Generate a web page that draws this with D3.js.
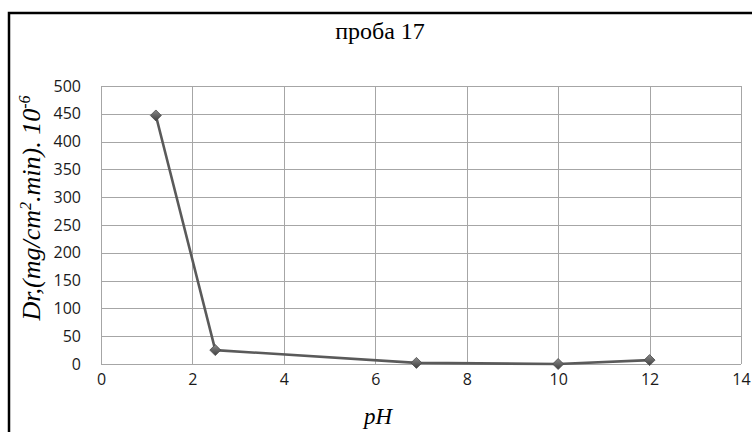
<!DOCTYPE html>
<html>
<head>
<meta charset="utf-8">
<script src="https://cdn.jsdelivr.net/npm/d3@7"></script>
</head>
<body style="margin:0">
<svg id="chart" width="752" height="432"></svg>
<script>
// Dissolution rate vs pH, sample 17
const phValues = [1.2, 2.5, 6.9, 10, 12];
const rateValues = [447, 25, 2, 0, 7];
const xTicks = [0, 2, 4, 6, 8, 10, 12, 14];
const yTicks = [0, 50, 100, 150, 200, 250, 300, 350, 400, 450, 500];
const titleText = "проба 17";

const SERIF = "Liberation Serif";
const SANS = "Open Sans";

const svg = d3.select("#chart");
const W = 752, H = 432;
const plot = { left: 101, right: 741, top: 86, bottom: 364 };

const x = d3.scaleLinear().domain([0, 14]).range([plot.left, plot.right]);
const y = d3.scaleLinear().domain([0, 500]).range([plot.bottom, plot.top]);

// outer frame (top and left edges visible)
svg.append("path")
  .attr("d", `M9,${H} V13 H${W}`)
  .attr("fill", "none").attr("stroke", "#000").attr("stroke-width", 2.5);

svg.append("text")
  .attr("x", 380).attr("y", 39)
  .attr("text-anchor", "middle")
  .attr("font-family", SERIF)
  .style("font-family", `"${SERIF}"`)
  .style("font-size", "24px")
  .attr("fill", "#000")
  .text(titleText);

// gridlines
const grid = svg.append("g").attr("stroke", "#a6a6a6").attr("stroke-width", 1).attr("shape-rendering", "crispEdges");
grid.selectAll("line.h").data(yTicks).join("line")
  .attr("x1", plot.left).attr("x2", plot.right)
  .attr("y1", d => Math.round(y(d)) + 0.5).attr("y2", d => Math.round(y(d)) + 0.5);
grid.selectAll("line.v").data(xTicks).join("line")
  .attr("y1", plot.top).attr("y2", plot.bottom)
  .attr("x1", d => Math.round(x(d)) + 0.5).attr("x2", d => Math.round(x(d)) + 0.5);

// axes (labels only)
const yAxis = svg.append("g").attr("transform", `translate(${plot.left},0)`)
  .call(d3.axisLeft(y).tickValues(yTicks).tickSize(0).tickPadding(20));
const xAxis = svg.append("g").attr("transform", `translate(0,${plot.bottom})`)
  .call(d3.axisBottom(x).tickValues(xTicks).tickSize(0).tickPadding(10));
[yAxis, xAxis].forEach(a => {
  a.attr("font-family", SANS).attr("font-size", 16);
  a.select(".domain").remove();
  a.selectAll("text")
    .attr("font-family", SANS)
    .style("font-family", `"${SANS}"`)
    .style("font-size", "16px")
    .attr("fill", "#1a1a1a");
});

// axis titles
svg.append("text")
  .attr("x", 378).attr("y", 424)
  .attr("text-anchor", "middle")
  .attr("font-family", SERIF)
  .style("font-family", `"${SERIF}"`)
  .style("font-style", "italic")
  .style("font-size", "23px")
  .text("pH");

const yt = svg.append("text")
  .attr("transform", "translate(40,208) rotate(-90)")
  .attr("text-anchor", "middle")
  .attr("font-family", SERIF)
  .style("font-family", `"${SERIF}"`)
  .style("font-style", "italic")
  .style("font-size", "26px");
yt.append("tspan").text("Dr,(mg/cm");
yt.append("tspan").attr("dy", -9).style("font-size", "16px").text("2");
yt.append("tspan").attr("dy", 9).text(".min). 10");
yt.append("tspan").attr("dy", -10).style("font-size", "16px").text("-6");

// series line
const pts = phValues.map((p, i) => [p, rateValues[i]]);
const line = d3.line().x(d => x(d[0])).y(d => y(d[1]));
svg.append("path")
  .datum(pts)
  .attr("d", line)
  .attr("fill", "none")
  .attr("stroke", "#5a5a5a")
  .attr("stroke-width", 2.6)
  .attr("stroke-linejoin", "round");

// diamond markers with slight shading
const defs = svg.append("defs");
const grad = defs.append("linearGradient").attr("id", "mk").attr("x1", 0).attr("y1", 0).attr("x2", 0).attr("y2", 1);
grad.append("stop").attr("offset", 0).attr("stop-color", "#8a8a8a");
grad.append("stop").attr("offset", 1).attr("stop-color", "#3f3f3f");
svg.selectAll("path.marker").data(pts).join("path")
  .attr("class", "marker")
  .attr("transform", d => `translate(${x(d[0])},${y(d[1])})`)
  .attr("d", "M0,-5.5 L5.5,0 L0,5.5 L-5.5,0 Z")
  .attr("fill", "url(#mk)")
  .attr("stroke", "#4a4a4a")
  .attr("stroke-width", 0.8);
</script>
</body>
</html>
